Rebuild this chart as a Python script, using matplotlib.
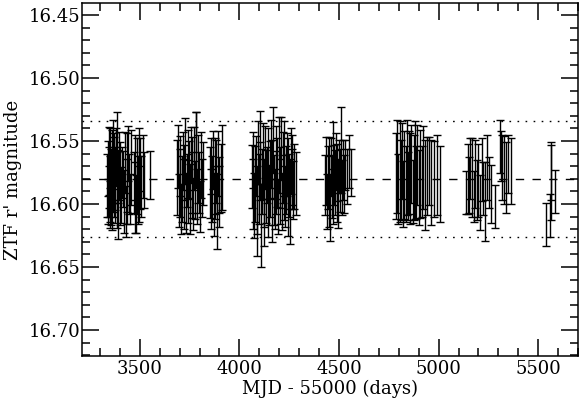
import numpy as np
import matplotlib
matplotlib.use("Agg")
import matplotlib.pyplot as plt
from matplotlib.ticker import MultipleLocator, FormatStrFormatter

# ---- data (MJD - 55000, ZTF r' magnitude, error) ----
mjd_a1 = [3336, 3339, 3341, 3343, 3345, 3347, 3349, 3351, 3353, 3355, 3357, 3359, 3361, 3363, 3365,
          3367, 3369, 3371, 3373, 3375, 3378, 3381, 3384, 3387, 3390, 3393, 3396, 3400, 3404, 3410]
mag_a1 = [16.585, 16.572, 16.598, 16.566, 16.590, 16.579, 16.603, 16.561, 16.588, 16.575, 16.594, 16.569,
          16.582, 16.600, 16.557, 16.586, 16.573, 16.592, 16.566, 16.580, 16.596, 16.563, 16.555, 16.589,
          16.578, 16.604, 16.570, 16.584, 16.593, 16.575]
err_a1 = [0.025, 0.022, 0.018, 0.027, 0.020, 0.024, 0.016, 0.021, 0.026, 0.019, 0.023, 0.028, 0.017, 0.021,
          0.024, 0.020, 0.026, 0.018, 0.022, 0.025, 0.019, 0.023, 0.028, 0.030, 0.021, 0.024, 0.027, 0.033,
          0.022, 0.020]

mjd_a2 = [3418, 3422, 3426, 3430, 3434, 3438, 3442, 3447, 3452, 3458]
mag_a2 = [16.580, 16.598, 16.567, 16.606, 16.575, 16.590, 16.560, 16.584, 16.596, 16.571]
err_a2 = [0.022, 0.025, 0.024, 0.020, 0.031, 0.026, 0.022, 0.024, 0.020, 0.030]

mjd_a3 = [3470, 3474, 3478, 3482, 3486, 3490, 3494, 3498, 3503, 3508, 3514, 3520, 3550]
mag_a3 = [16.583, 16.595, 16.571, 16.600, 16.578, 16.589, 16.565, 16.592, 16.576, 16.586, 16.570, 16.581, 16.577]
err_a3 = [0.024, 0.028, 0.026, 0.023, 0.030, 0.027, 0.025, 0.022, 0.028, 0.024, 0.025, 0.022, 0.019]

mjd_b1 = [3688, 3692, 3696, 3700, 3704, 3708, 3712, 3716, 3720, 3724, 3728, 3732, 3736, 3740, 3744, 3748,
          3752, 3756, 3760, 3764, 3768, 3772, 3776, 3780, 3784, 3788, 3792, 3796, 3800, 3805, 3810, 3815]
mag_b1 = [16.579, 16.562, 16.597, 16.583, 16.570, 16.604, 16.588, 16.566, 16.592, 16.575, 16.558, 16.599,
          16.581, 16.568, 16.590, 16.573, 16.596, 16.561, 16.585, 16.577, 16.600, 16.564, 16.589, 16.556,
          16.557, 16.594, 16.572, 16.583, 16.602, 16.569, 16.587, 16.576]
err_b1 = [0.030, 0.025, 0.021, 0.027, 0.024, 0.020, 0.026, 0.023, 0.028, 0.022, 0.026, 0.024, 0.021, 0.027,
          0.025, 0.023, 0.028, 0.022, 0.026, 0.030, 0.021, 0.025, 0.023, 0.029, 0.030, 0.022, 0.027, 0.024,
          0.020, 0.026, 0.023, 0.025]

mjd_b2 = [3852, 3856, 3860, 3864, 3868, 3872, 3876, 3880, 3884, 3888, 3892, 3896, 3900, 3906, 3912]
mag_b2 = [16.583, 16.596, 16.570, 16.588, 16.565, 16.600, 16.578, 16.591, 16.574, 16.606, 16.568, 16.585,
          16.594, 16.579, 16.571]
err_b2 = [0.028, 0.024, 0.022, 0.026, 0.023, 0.025, 0.030, 0.021, 0.025, 0.030, 0.026, 0.022, 0.024, 0.027, 0.034]

mjd_c = [4062, 4066, 4070, 4074, 4078, 4082, 4086, 4090, 4094, 4098, 4102, 4106, 4110, 4114, 4118, 4122,
         4126, 4130, 4134, 4138, 4142, 4146, 4150, 4154, 4158, 4162, 4166, 4170, 4174, 4178, 4182, 4186,
         4190, 4194, 4198, 4202, 4206, 4210, 4214, 4218, 4222, 4226, 4230, 4234, 4238, 4242, 4246, 4250,
         4254, 4258, 4262, 4266, 4270, 4276, 4282]
mag_c = [16.578, 16.592, 16.565, 16.601, 16.584, 16.570, 16.597, 16.610, 16.559, 16.588, 16.555, 16.574,
         16.617, 16.582, 16.566, 16.609, 16.591, 16.563, 16.586, 16.577, 16.600, 16.568, 16.593, 16.580,
         16.560, 16.605, 16.572, 16.549, 16.589, 16.596, 16.567, 16.583, 16.575, 16.602, 16.561, 16.590,
         16.579, 16.556, 16.598, 16.571, 16.587, 16.564, 16.594, 16.581, 16.569, 16.603, 16.576, 16.585,
         16.598, 16.566, 16.580, 16.573, 16.589, 16.578, 16.584]
err_c = [0.025, 0.028, 0.022, 0.026, 0.030, 0.024, 0.027, 0.031, 0.025, 0.028, 0.029, 0.023, 0.033, 0.026,
         0.030, 0.024, 0.027, 0.025, 0.029, 0.022, 0.026, 0.028, 0.024, 0.030, 0.027, 0.025, 0.023, 0.026,
         0.028, 0.024, 0.029, 0.025, 0.027, 0.022, 0.030, 0.026, 0.024, 0.025, 0.023, 0.028, 0.026, 0.030,
         0.024, 0.027, 0.025, 0.022, 0.028, 0.025, 0.034, 0.026, 0.024, 0.028, 0.023, 0.026, 0.025]

mjd_d = [4428, 4433, 4438, 4443, 4448, 4452, 4456, 4460, 4464, 4468, 4472, 4476, 4480, 4484, 4488, 4492,
         4496, 4500, 4505, 4510, 4515, 4520, 4526, 4532, 4540, 4550, 4560]
mag_d = [16.585, 16.574, 16.598, 16.579, 16.568, 16.590, 16.603, 16.571, 16.586, 16.562, 16.594, 16.577,
         16.583, 16.566, 16.589, 16.575, 16.592, 16.570, 16.581, 16.557, 16.587, 16.573, 16.584, 16.569,
         16.578, 16.566, 16.575]
err_d = [0.024, 0.027, 0.022, 0.025, 0.021, 0.028, 0.026, 0.023, 0.025, 0.027, 0.022, 0.024, 0.026, 0.022,
         0.025, 0.023, 0.027, 0.021, 0.025, 0.034, 0.022, 0.024, 0.023, 0.020, 0.022, 0.021, 0.019]

mjd_e = [4786, 4792, 4798, 4804, 4810, 4816, 4822, 4828, 4834, 4840, 4846, 4852, 4858, 4864, 4870, 4876,
         4882, 4888, 4894, 4900, 4908, 4916, 4924, 4932, 4940, 4950, 4960, 4975, 4990, 5005]
mag_e = [16.578, 16.570, 16.588, 16.574, 16.581, 16.566, 16.592, 16.577, 16.584, 16.571, 16.586, 16.575,
         16.580, 16.568, 16.590, 16.579, 16.573, 16.583, 16.569, 16.587, 16.576, 16.582, 16.571, 16.585,
         16.578, 16.574, 16.583, 16.580, 16.577, 16.584]
err_e = [0.034, 0.037, 0.028, 0.040, 0.032, 0.030, 0.026, 0.035, 0.030, 0.038, 0.027, 0.033, 0.036, 0.031,
         0.025, 0.034, 0.039, 0.029, 0.032, 0.030, 0.035, 0.028, 0.033, 0.036, 0.031, 0.027, 0.034, 0.030,
         0.032, 0.030]

mjd_f = [5140, 5146, 5152, 5160, 5168, 5176, 5184, 5192, 5200, 5208, 5216, 5224, 5234, 5244, 5254, 5264,
         5284, 5306, 5312, 5318, 5330, 5340, 5350, 5362]
mag_f = [16.591, 16.580, 16.585, 16.572, 16.579, 16.594, 16.576, 16.589, 16.581, 16.599, 16.573, 16.588,
         16.598, 16.571, 16.583, 16.592, 16.602, 16.554, 16.562, 16.571, 16.573, 16.579, 16.568, 16.574]
err_f = [0.017, 0.028, 0.022, 0.024, 0.031, 0.020, 0.027, 0.024, 0.029, 0.022, 0.025, 0.021, 0.031, 0.026,
         0.020, 0.023, 0.017, 0.021, 0.020, 0.026, 0.027, 0.028, 0.023, 0.026]

mjd_g = [5540, 5558, 5562, 5566, 5585]
mag_g = [16.616, 16.609, 16.582, 16.575, 16.590]
err_g = [0.017, 0.017, 0.031, 0.022, 0.017]

mean_mag = 16.580
band_hi = 16.534
band_lo = 16.626

x_ticks = [3500, 4000, 4500, 5000, 5500]
y_ticks = [16.45, 16.50, 16.55, 16.60, 16.65, 16.70]

mjd = np.concatenate([mjd_a1, mjd_a2, mjd_a3, mjd_b1, mjd_b2, mjd_c, mjd_d, mjd_e, mjd_f, mjd_g])
mag = np.concatenate([mag_a1, mag_a2, mag_a3, mag_b1, mag_b2, mag_c, mag_d, mag_e, mag_f, mag_g])
err = np.concatenate([err_a1, err_a2, err_a3, err_b1, err_b2, err_c, err_d, err_e, err_f, err_g])

plt.rcParams['font.family'] = ['DejaVu Serif']

fig = plt.figure(figsize=(5.8, 4.03), dpi=100)
ax = fig.add_axes([0.1414, 0.1166, 0.8552, 0.876])

ax.errorbar(mjd, mag, yerr=err, fmt='none', ecolor='black', elinewidth=1.0,
            capsize=3.2, capthick=1.0, zorder=3)

ax.axhline(mean_mag, color='black', lw=1.0, ls=(0, (6, 6)), zorder=2)
ax.axhline(band_hi, color='black', lw=1.0, ls=(0, (1.2, 4.6)), zorder=2)
ax.axhline(band_lo, color='black', lw=1.0, ls=(0, (1.2, 4.6)), zorder=2)

ax.set_xlim(3210, 5700)
ax.set_ylim(16.7206, 16.4405)

ax.set_xticks(x_ticks)
ax.set_yticks(y_ticks)
ax.xaxis.set_minor_locator(MultipleLocator(100))
ax.yaxis.set_minor_locator(MultipleLocator(0.01))
ax.yaxis.set_major_formatter(FormatStrFormatter('%.2f'))

ax.tick_params(which='both', direction='in', top=True, right=True, width=1.1, labelsize=13)
ax.tick_params(which='major', length=12)
ax.tick_params(which='minor', length=6)
ax.tick_params(axis='y', which='both', pad=1)
ax.tick_params(axis='x', which='both', pad=3)

for s in ax.spines.values():
    s.set_linewidth(1.1)

ax.set_xlabel('MJD - 55000 (days)', fontsize=13, labelpad=1)
ax.set_ylabel("ZTF r' magnitude", fontsize=13, labelpad=5)

fig.savefig('out.png', dpi=100)
